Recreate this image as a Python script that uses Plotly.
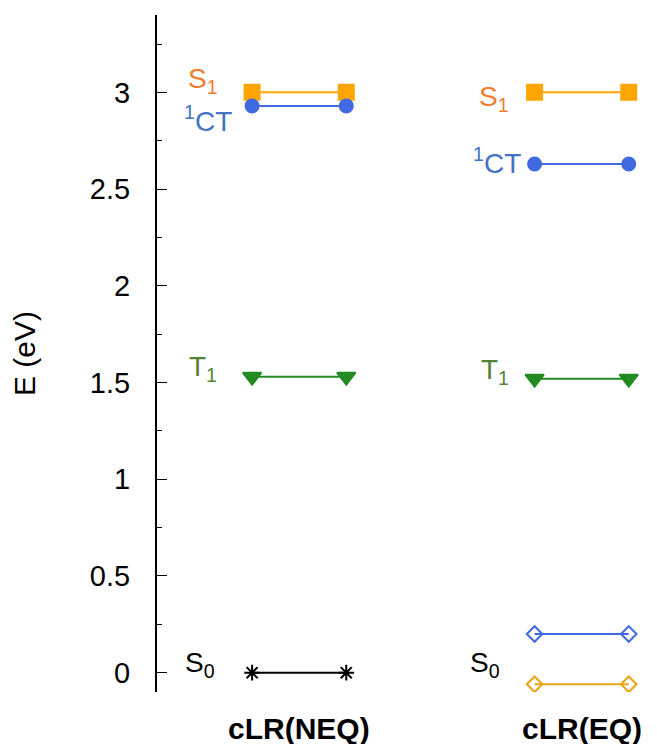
import plotly.graph_objects as go

# data
x_neq = [0, 1]
x_eq = [3, 4]
neq_S1 = 3.00
neq_CT = 2.93
neq_T1 = 1.53
neq_S0 = 0.00
eq_S1 = 3.00
eq_CT = 2.63
eq_T1 = 1.52
eq_S0_blue = 0.20
eq_S0_orange = -0.06
categories = ["cLR(NEQ)", "cLR(EQ)"]
cat_x = [0.5, 3.5]
ytick_vals = [0, 0.5, 1, 1.5, 2, 2.5, 3]
ytick_text = ["0", "0.5", "1", "1.5", "2", "2.5", "3"]
yminor_vals = [0.25, 0.75, 1.25, 1.75, 2.25, 2.75, 3.25]

ORANGE = "#FFA500"
BLUE = "#4169E1"
GREEN = "#228B22"
LBL_ORANGE = "#ED7D31"
LBL_BLUE = "#4472C4"
LBL_GREEN = "#548235"
FONT = "Liberation Sans, Arial, sans-serif"

fig = go.Figure()

def level(xs, y, color, symbol, size, lw=2, mlw=2):
    fig.add_trace(go.Scatter(
        x=xs, y=[y, y], mode="lines+markers",
        line=dict(color=color, width=lw),
        marker=dict(symbol=symbol, size=size, color=color,
                    line=dict(color=color, width=mlw)),
        showlegend=False, hoverinfo="skip"))

level(x_neq, neq_S1, ORANGE, "square", 15)
level(x_neq, neq_CT, BLUE, "circle", 13)
level(x_neq, neq_T1, GREEN, "triangle-down", 16)
level(x_neq, neq_S0, "black", "asterisk-open", 13)
level(x_eq, eq_S1, ORANGE, "square", 15)
level(x_eq, eq_CT, BLUE, "circle", 13)
level(x_eq, eq_T1, GREEN, "triangle-down", 16)
level(x_eq, eq_S0_blue, BLUE, "diamond-open", 12)
level(x_eq, eq_S0_orange, "#E8A317", "diamond-open", 12)

labels = [
    (-0.34, 3.06, "S<sub>1</sub>", LBL_ORANGE),
    (-0.19, 2.86, "<sup>1</sup>CT", LBL_BLUE),
    (-0.35, 1.57, "T<sub>1</sub>", LBL_GREEN),
    (-0.37, 0.04, "S<sub>0</sub>", "black"),
    (2.75, 2.97, "S<sub>1</sub>", LBL_ORANGE),
    (2.88, 2.645, "<sup>1</sup>CT", LBL_BLUE),
    (2.75, 1.555, "T<sub>1</sub>", LBL_GREEN),
    (2.65, 0.04, "S<sub>0</sub>", "black"),
]
for x, y, t, c in labels:
    fig.add_annotation(x=x, y=y, text=t, showarrow=False, xanchor="right",
                       yanchor="middle", font=dict(size=28, color=c, family=FONT))

for cx, ct in zip(cat_x, categories):
    fig.add_annotation(x=cx, y=0, yref="paper", text="<b>" + ct + "</b>",
                       showarrow=False, xanchor="center", yanchor="middle",
                       yshift=-36, font=dict(size=30, color="black", family=FONT))

fig.update_layout(
    width=657, height=744,
    margin=dict(l=157, r=0, t=15, b=52, autoexpand=False),
    plot_bgcolor="white", paper_bgcolor="white",
    font=dict(family=FONT, color="black"),
    xaxis=dict(range=[-1.01, 4.3], showgrid=False, zeroline=False,
               showline=False, showticklabels=False, ticks="", automargin=False),
    yaxis=dict(range=[-0.1, 3.4], showgrid=False, zeroline=False, automargin=False,
               showline=True, linecolor="black", linewidth=2,
               tickvals=ytick_vals, ticktext=ytick_text,
               ticks="inside", ticklen=10, tickwidth=1, tickcolor="black",
               minor=dict(tickvals=yminor_vals,
                          ticks="inside", ticklen=5, tickcolor="black"),
               tickfont=dict(size=29, family=FONT),
               ticklabelstandoff=19,
               title=dict(text="E (eV)", font=dict(size=30, family=FONT), standoff=45)),
)

fig.write_html("out.html", config={"displayModeBar": False},
               post_script="document.body.style.margin='0';document.body.style.overflow='hidden';")
